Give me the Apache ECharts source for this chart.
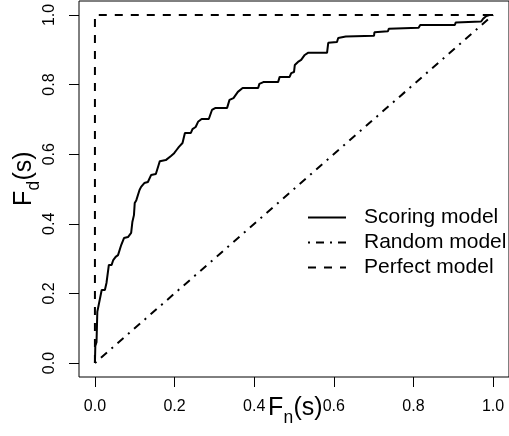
<!DOCTYPE html>
<html>
<head>
<meta charset="utf-8">
<script src="https://cdn.jsdelivr.net/npm/echarts@6/dist/echarts.min.js"></script>
<style>
  html, body { margin: 0; padding: 0; background: #fff; }
  #chart { width: 509px; height: 436px; }
</style>
</head>
<body>
<div id="chart"></div>
<script>
// tick positions on both axes
var tickValues = [0, 0.2, 0.4, 0.6, 0.8, 1.0];

// ROC curve of the scoring model
var scoringFpr = [0, 0.001, 0.004, 0.006, 0.010, 0.017, 0.025, 0.029, 0.035, 0.042, 0.046, 0.052, 0.058,
    0.066, 0.073, 0.083, 0.091, 0.094, 0.098, 0.100, 0.104, 0.112, 0.116, 0.124, 0.133, 0.141, 0.153,
    0.160, 0.163, 0.178, 0.191, 0.199, 0.205, 0.211, 0.220, 0.226, 0.241, 0.245, 0.253, 0.259, 0.268,
    0.286, 0.294, 0.303, 0.332, 0.338, 0.348, 0.359, 0.371, 0.410, 0.413, 0.423, 0.460, 0.464, 0.489,
    0.493, 0.500, 0.502, 0.510, 0.518, 0.527, 0.535, 0.583, 0.586, 0.608, 0.611, 0.630, 0.701, 0.702,
    0.736, 0.738, 0.813, 0.817, 0.904, 0.906, 0.970, 0.975, 0.983, 0.991, 1.0];
var scoringTpr = [0, 0.049, 0.060, 0.147, 0.147, 0.210, 0.210, 0.230, 0.282, 0.282, 0.296, 0.305, 0.310,
    0.339, 0.359, 0.362, 0.374, 0.405, 0.425, 0.460, 0.468, 0.497, 0.506, 0.517, 0.520, 0.540, 0.543,
    0.569, 0.580, 0.583, 0.595, 0.603, 0.612, 0.621, 0.632, 0.661, 0.661, 0.672, 0.678, 0.693, 0.701,
    0.701, 0.727, 0.733, 0.733, 0.756, 0.761, 0.779, 0.790, 0.790, 0.802, 0.807, 0.807, 0.822, 0.822,
    0.833, 0.836, 0.856, 0.865, 0.871, 0.885, 0.891, 0.891, 0.920, 0.922, 0.934, 0.938, 0.940, 0.950,
    0.953, 0.960, 0.963, 0.971, 0.971, 0.978, 0.981, 0.989, 0.997, 1.0, 1.0];

var randomFpr = [0, 1];
var randomTpr = [0, 1];

var perfectFpr = [0, 0, 1];
var perfectTpr = [0, 1, 1];

var seriesNames = ['Scoring model', 'Random model', 'Perfect model'];

var FONT = 'Liberation Sans';

var pairs = function(xs, ys) {
    return xs.map(function(x, i) { return [x, ys[i]]; });
};

var lineSeries = function(name, data, dash) {
    return {
        name: name,
        type: 'line',
        symbol: 'none',
        showSymbol: false,
        clip: false,
        lineStyle: { color: '#000', width: 2, type: dash },
        itemStyle: { color: '#000' },
        data: data
    };
};

var tickLabel = function(extra) {
    return Object.assign({
        customValues: tickValues,
        color: '#000',
        fontFamily: FONT,
        fontSize: 16,
        formatter: function(v) { return v.toFixed(1); }
    }, extra);
};

var axisCommon = {
    type: 'value',
    min: -0.04,
    max: 1.04,
    axisLine: { show: false, onZero: false },
    splitLine: { show: false },
    axisTick: {
        show: true,
        customValues: tickValues,
        length: 10,
        lineStyle: { color: '#000', width: 1 }
    }
};

var option = {
    animation: false,
    backgroundColor: '#fff',
    grid: {
        left: 79, top: 1, width: 434, height: 376,
        show: true, borderColor: '#000', borderWidth: 1, backgroundColor: 'transparent'
    },
    xAxis: Object.assign({}, axisCommon, {
        axisLabel: tickLabel({ margin: 22 })
    }),
    yAxis: Object.assign({}, axisCommon, {
        axisLabel: tickLabel({ margin: 21, rotate: 90 })
    }),
    legend: {
        orient: 'vertical',
        left: 302,
        top: 202,
        itemWidth: 38,
        itemHeight: 12,
        itemGap: 4,
        itemStyle: { opacity: 0 },
        textStyle: {
            color: '#000', fontFamily: FONT, fontSize: 21, lineHeight: 21,
            padding: [0, 0, 0, 13]
        },
        data: seriesNames
    },
    graphic: [
        {
            type: 'group',
            children: [
                { type: 'text', x: 268, y: 408, style: { text: 'F', fontSize: 25, fontFamily: FONT, fill: '#000', verticalAlign: 'middle' } },
                { type: 'text', x: 283.5, y: 418, style: { text: 'n', fontSize: 17.5, fontFamily: FONT, fill: '#000', verticalAlign: 'middle' } },
                { type: 'text', x: 293.5, y: 408, style: { text: '(s)', fontSize: 25, fontFamily: FONT, fill: '#000', verticalAlign: 'middle' } }
            ]
        },
        {
            type: 'group',
            x: 24,
            y: 206,
            rotation: Math.PI / 2,
            children: [
                { type: 'text', x: 0, y: 0, style: { text: 'F', fontSize: 25, fontFamily: FONT, fill: '#000', verticalAlign: 'middle' } },
                { type: 'text', x: 15.5, y: 10, style: { text: 'd', fontSize: 17.5, fontFamily: FONT, fill: '#000', verticalAlign: 'middle' } },
                { type: 'text', x: 25.5, y: 0, style: { text: '(s)', fontSize: 25, fontFamily: FONT, fill: '#000', verticalAlign: 'middle' } }
            ]
        }
    ],
    series: [
        lineSeries(seriesNames[0], pairs(scoringFpr, scoringTpr), 'solid'),
        lineSeries(seriesNames[1], pairs(randomFpr, randomTpr), [2, 6, 8, 6]),
        lineSeries(seriesNames[2], pairs(perfectFpr, perfectTpr), [8, 8])
    ]
};

var chart = echarts.init(document.getElementById('chart'));
chart.setOption(option);
</script>
</body>
</html>
